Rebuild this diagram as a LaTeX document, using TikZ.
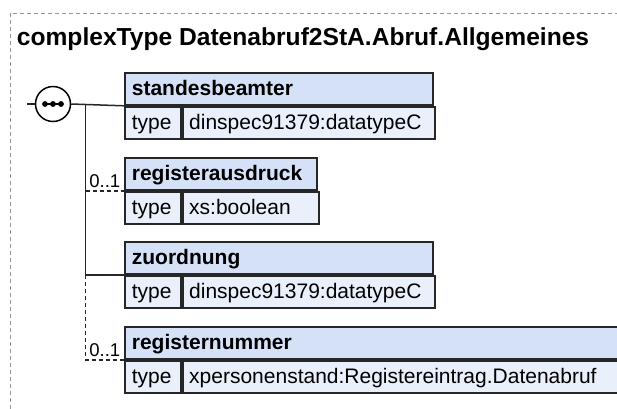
\documentclass[tikz,border=0pt]{standalone}
\usepackage{fontspec}
\setmainfont{Liberation Sans}
\usepackage{tikz}
\usetikzlibrary{positioning, calc}
\usepackage{xcolor}
\definecolor{hdrblue}{RGB}{212, 225, 247}
\definecolor{rowblue}{RGB}{233, 240, 252}
\definecolor{boxline}{RGB}{38, 38, 38}
\definecolor{framegray}{RGB}{150, 150, 150}
\tikzset{
  hdr/.style      = {rectangle, draw=boxline, fill=hdrblue, line width=1.8pt, minimum height=32pt, inner xsep=7pt, inner ysep=0pt, text height=16pt, text depth=3pt, align=left, anchor=north west, font=\fontsize{21}{25}\selectfont\bfseries},
  typecell/.style = {rectangle, draw=boxline, fill=rowblue, line width=1.8pt, minimum height=32pt, inner xsep=7pt, inner ysep=0pt, text height=16pt, text depth=3pt, text width=42pt, align=left, anchor=north west, font=\fontsize{21}{25}\selectfont},
  valcell/.style  = {rectangle, draw=boxline, fill=rowblue, line width=1.8pt, minimum height=32pt, inner xsep=6.5pt, inner ysep=0pt, text height=16pt, text depth=3pt, align=left, anchor=north west, font=\fontsize{21}{25}\selectfont},
  seqnode/.style  = {circle, draw=black, fill=white, line width=1.5pt, minimum size=35pt, inner sep=0pt},
  conn/.style     = {draw=boxline, line width=1.5pt},
  connopt/.style  = {conn, dashed, dash pattern=on 4pt off 3pt},
  mult/.style     = {anchor=base west, inner sep=0pt, font=\fontsize{18.5}{22}\selectfont},
}

\begin{document}
\begin{tikzpicture}[x=1pt, y=-1pt]

\useasboundingbox (0,0) rectangle (617,408);
\clip (0,0) rectangle (617,408);

% 外框
\draw[framegray, line width=0.9pt, dashed, dash pattern=on 4pt off 3pt] (10,430) |- (640,13);
\node[anchor=base west, inner sep=0pt, font=\fontsize{24.6}{29}\selectfont\bfseries] (title) at (16.7,45) {complexType Datenabruf2StA.Abruf.Allgemeines};

% ===== 元素 =====
\node[hdr, text width=294pt] (standesbeamter) at (124,72) {standesbeamter};
\node[typecell] (standesbeamter-t) at (standesbeamter.south west) {type};
\node[valcell, text width=239pt] (standesbeamter-v) at (standesbeamter-t.north east) {dinspec91379:datatypeC};

\node[hdr, text width=178pt] (registerausdruck) at (124,157) {registerausdruck};
\node[typecell] (registerausdruck-t) at (registerausdruck.south west) {type};
\node[valcell, text width=123pt] (registerausdruck-v) at (registerausdruck-t.north east) {xs:boolean};

\node[hdr, text width=294pt] (zuordnung) at (124,241) {zuordnung};
\node[typecell] (zuordnung-t) at (zuordnung.south west) {type};
\node[valcell, text width=239pt] (zuordnung-v) at (zuordnung-t.north east) {dinspec91379:datatypeC};

\node[hdr, text width=502pt] (registernummer) at (124,326) {registernummer};
\node[typecell] (registernummer-t) at (registernummer.south west) {type};
\node[valcell, text width=447pt] (registernummer-v) at (registernummer-t.north east) {xpersonenstand:Registereintrag.Datenabruf};

% ===== 序列符号 =====
\node[seqnode] (seq) at (53,104) {};
\draw[line width=1.6pt] ([xshift=-8pt]seq.center) -- ([xshift=8pt]seq.center);
\foreach \dx in {-8,0,8}
  \fill ([xshift=\dx pt]seq.center) circle (2.9pt);
\coordinate (start) at (27,104);
\coordinate (fork) at (85.7,104);

% 连线
\draw[conn] (start) -- (seq.west);
\draw[conn] (seq.east) -- (standesbeamter.south west);
\draw[conn] (fork) |- (zuordnung.south west);
\coordinate (ra-in) at (fork |- registerausdruck.south west);
\coordinate (zo-in) at (fork |- zuordnung.south west);
\draw[connopt] (ra-in) -- (registerausdruck.south west);
\draw[connopt] (zo-in) |- (registernummer.south west);

% 多重性
\node[mult] (ra-mult) at ([xshift=3.5pt,yshift=3.5pt]ra-in) {0..1};
\node[mult] (rn-mult) at ([xshift=3.5pt,yshift=3.5pt]fork |- registernummer.south west) {0..1};

\end{tikzpicture}
\end{document}
